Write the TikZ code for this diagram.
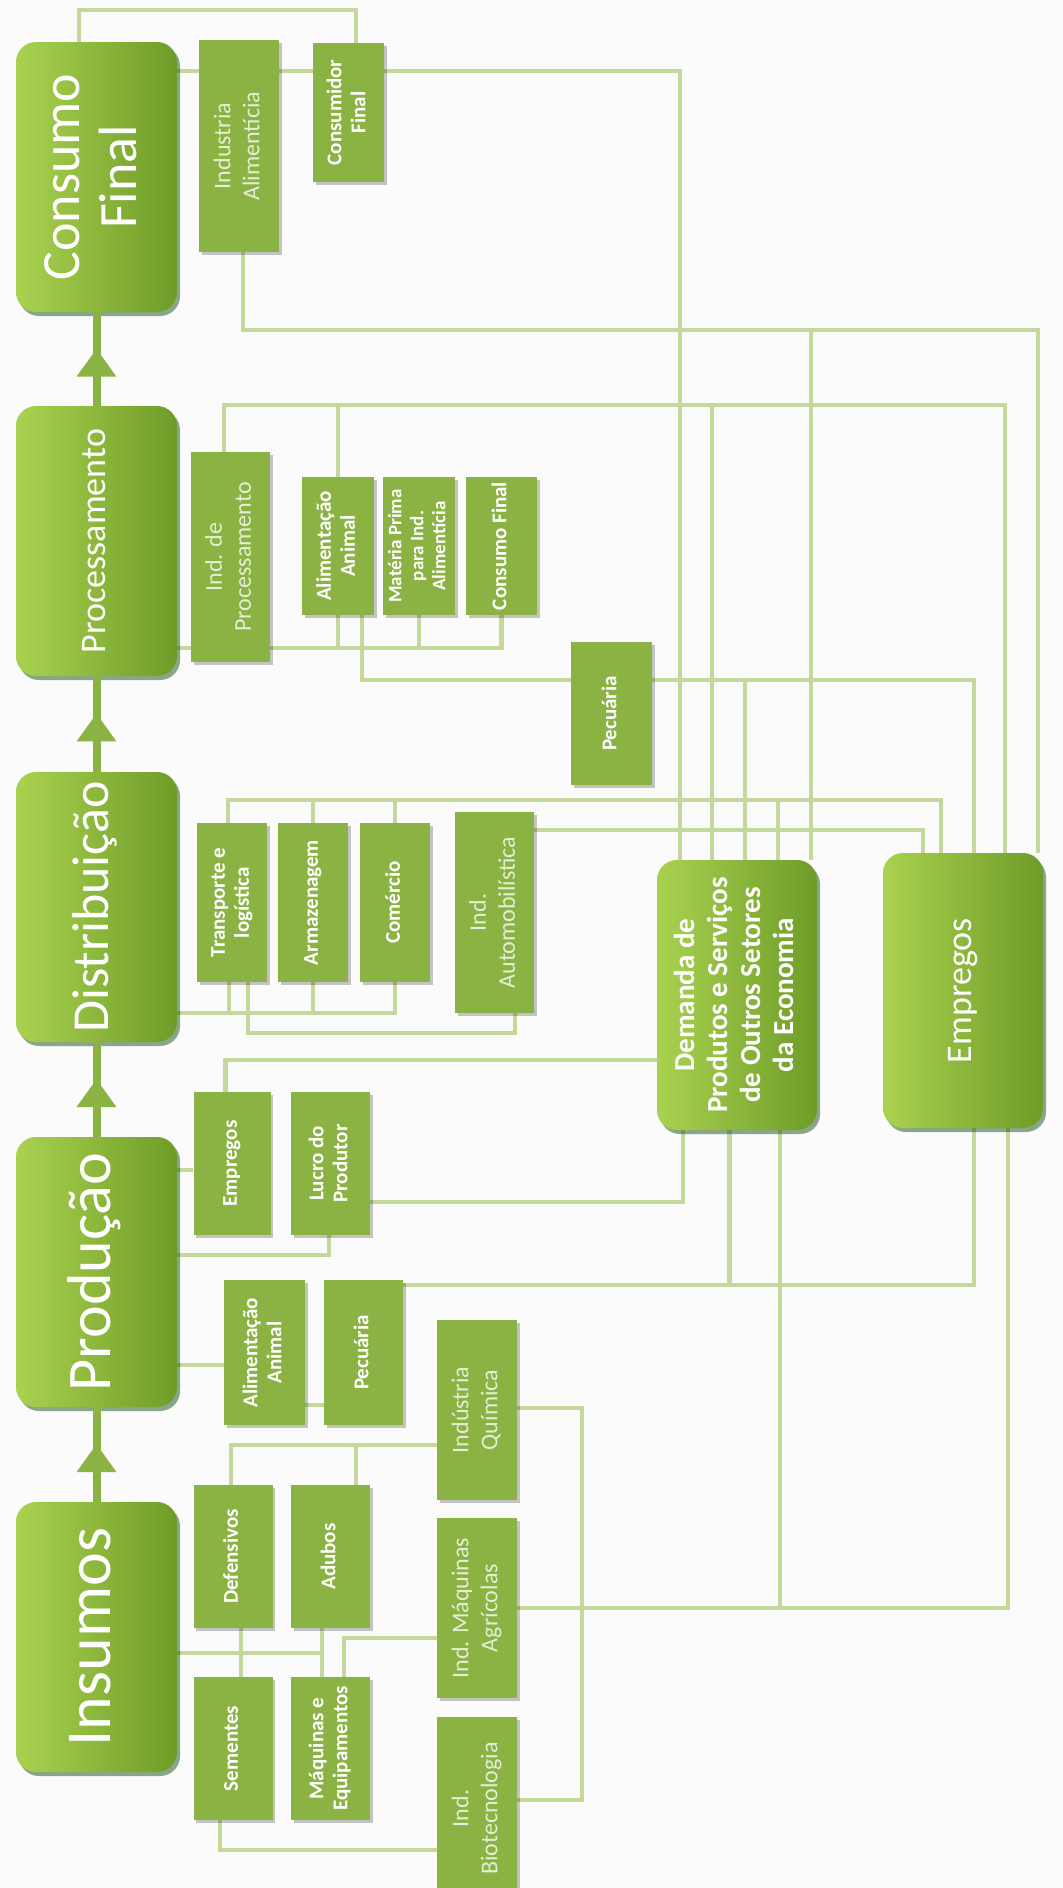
\documentclass[tikz,border=0pt]{standalone}
\usepackage{fontspec}
\setmainfont{Carlito}
\usepackage{graphicx}
\usetikzlibrary{arrows.meta,decorations.markings,shadows}
\definecolor{bgc}{RGB}{250,251,250}
\definecolor{subg}{RGB}{139,179,68}
\definecolor{lineg}{RGB}{197,216,156}
\definecolor{stL}{RGB}{170,210,80}
\definecolor{stR}{RGB}{110,156,40}
\definecolor{lighttxt}{RGB}{228,238,212}
\pgfdeclarelayer{bgzero}
\pgfdeclarelayer{lines}
\pgfsetlayers{bgzero,lines,main}
\newcommand{\rtx}[1]{\rotatebox{90}{\begin{tabular}{@{}c@{}}#1\end{tabular}}}
\newcommand{\fontb}{\fontsize{21}{24}\selectfont\bfseries}
\newcommand{\fontl}{\fontsize{24}{29}\selectfont}
\tikzset{
  wh/.style 2 args={minimum width=#1pt,minimum height=#2pt},
  stage/.style={rounded corners=20pt, left color=stL, right color=stR, draw=none,
    inner sep=0pt, minimum width=161pt, minimum height=270pt, text=white,
    drop shadow={shadow xshift=3pt, shadow yshift=-4pt, opacity=0.45, fill=black!75!green}},
  sub/.style={fill=subg, inner sep=0pt, text=white,
    drop shadow={shadow xshift=2.5pt, shadow yshift=-2.5pt, opacity=0.22, fill=black}},
  bsub/.style={sub, font=\fontb},
  lsub/.style={sub, font=\fontl, text=lighttxt},
  ln/.style={draw=lineg, line width=4.8pt},
  flow/.style={draw=subg, line width=8pt, postaction={decorate},
    decoration={markings, mark=at position 0.61 with {\arrow[subg]{Triangle[width=38pt,length=28pt]}}}},
}
\begin{document}
\begin{tikzpicture}[x=1pt,y=-1pt]
\useasboundingbox (0,0) rectangle (1063,1888);
\begin{pgfonlayer}{bgzero}
\fill[bgc] (0,0) rectangle (1063,1888);
\end{pgfonlayer}

% stages
\node[stage] (sCF) at (96.5,177) {\fontsize{54}{57}\selectfont\rtx{Consumo\\Final}};
\node[stage] (sPR) at (96.5,541) {\fontsize{36}{44}\selectfont\rtx{Processamento}};
\node[stage] (sDI) at (96.5,907) {\fontsize{52}{60}\selectfont\rtx{Distribuição}};
\node[stage] (sPD) at (96.5,1272) {\fontsize{62}{70}\selectfont\rtx{Produção}};
\node[stage] (sIN) at (96.5,1637) {\fontsize{64}{72}\selectfont\rtx{Insumos}};

% consumo final
\node[lsub, wh={80}{212}] (ia) at (239,146) {\rtx{Industria\\Alimentícia}};
\node[bsub, wh={71}{139}] (cfn) at (348.5,112.5) {\rtx{Consumidor\\Final}};
% processamento
\node[lsub, wh={79}{210}] (ip) at (230.5,557) {\rtx{Ind. de\\Processamento}};
\node[bsub, wh={72}{138}] (aap) at (338,546) {\rtx{Alimentação\\Animal}};
\node[bsub, wh={72}{138}] (mp) at (419,546) {\fontsize{19}{22}\selectfont\rtx{Matéria Prima\\para Ind.\\Alimentícia}};
\node[bsub, wh={71}{138}] (cfp) at (501.5,546) {\rtx{Consumo Final}};
\node[bsub, wh={81}{143}] (pecp) at (611.5,713.5) {\rtx{Pecuária}};
% distribuicao
\node[bsub, wh={70}{159}] (tl) at (232,902.5) {\rtx{Transporte e\\logística}};
\node[bsub, wh={70}{159}] (arm) at (313,902.5) {\rtx{Armazenagem}};
\node[bsub, wh={70}{159}] (com) at (395,902.5) {\rtx{Comércio}};
\node[lsub, wh={79}{201}] (iau) at (494.5,912.5) {\rtx{Ind.\\Automobilística}};
% big side boxes
\node[stage, minimum width=160pt, minimum height=270pt] (dem) at (737,995)
  {\fontsize{29}{33}\selectfont\bfseries\rtx{Demanda de\\Produtos e Serviços\\de Outros Setores\\da Economia}};
\node[stage, minimum width=160pt, minimum height=275pt] (emp) at (963,990.5)
  {\fontsize{36}{40}\selectfont\rtx{Empregos}};
% producao
\node[bsub, wh={77}{143}] (empp) at (232,1163.5) {\rtx{Empregos}};
\node[bsub, wh={79}{143}] (luc) at (330.5,1163.5) {\rtx{Lucro do\\Produtor}};
\node[bsub, wh={81}{145}] (aad) at (264.5,1352.5) {\rtx{Alimentação\\Animal}};
\node[bsub, wh={79}{145}] (pecd) at (363.5,1352.5) {\rtx{Pecuária}};
% insumos
\node[lsub, wh={80}{180}] (qui) at (477,1410) {\rtx{Indústria\\Química}};
\node[lsub, wh={80}{180}] (imq) at (477,1608) {\rtx{Ind. Máquinas\\Agrícolas}};
\node[lsub, wh={80}{183}] (bio) at (477,1808.5) {\rtx{Ind.\\Biotecnologia}};
\node[bsub, wh={79}{143}] (def) at (233,1556.5) {\rtx{Defensivos}};
\node[bsub, wh={79}{143}] (adu) at (330.5,1556.5) {\rtx{Adubos}};
\node[bsub, wh={79}{143}] (sem) at (233,1748.5) {\rtx{Sementes}};
\node[bsub, wh={79}{143}] (maq) at (330.5,1748.5) {\rtx{Máquinas e\\Equipamentos}};

% stage arrows
\draw[flow] (sPR.north) -- (sCF.south);
\draw[flow] (sDI.north) -- (sPR.south);
\draw[flow] (sPD.north) -- (sDI.south);
\draw[flow] (sIN.north) -- (sPD.south);

\begin{pgfonlayer}{lines}
% consumo final
\draw[ln] (sCF.north -| 79,0) -- (79,10) -- (356,10) -- (cfn.north -| 356,0);
\draw[ln] (sCF.east |- 0,71) -- (680,71) -- (dem.north -| 680,0);
\draw[ln] (ia.south -| 243,0) -- (243,330) -- (1038,330) -- (emp.north -| 1038,0);
\coordinate (ja) at (811,330);
\draw[ln] (ja) -- (dem.north -| ja);
% processamento
\draw[ln] (ip.north -| 224,0) -- (224,405) -- (1005,405) -- (emp.north -| 1005,0);
\coordinate (jb) at (338,405);
\draw[ln] (jb) -- (aap.north);
\coordinate (jc) at (712,405);
\draw[ln] (jc) -- (dem.north -| jc);
\draw[ln] (sPR.east |- 0,648) -- (cfp.south |- 0,648) -- (cfp.south);
\draw[ln] (aap.south) -- (aap.south |- 0,648);
\draw[ln] (mp.south) -- (mp.south |- 0,648);
\draw[ln] (aap.south -| 362,0) -- (362,680) -- (974,680) -- (emp.north -| 974,0);
\coordinate (je) at (745,680);
\draw[ln] (je) -- (dem.north -| je);
% distribuicao
\draw[ln] (tl.north -| 228,0) -- (228,800) -- (941,800) -- (emp.north -| 941,0);
\draw[ln] (arm.north) -- (arm.north |- 0,800);
\draw[ln] (com.north) -- (com.north |- 0,800);
\coordinate (jf) at (778,800);
\draw[ln] (jf) -- (dem.north -| jf);
\draw[ln] (iau.east |- 0,830) -- (923,830) -- (emp.north -| 923,0);
\draw[ln] (sDI.east |- 0,1013) -- (com.south |- 0,1013) -- (com.south);
\draw[ln] (tl.south -| 229,0) -- (229,1013);
\draw[ln] (arm.south) -- (arm.south |- 0,1013);
\draw[ln] (tl.south -| 248,0) -- (248,1033) -- (515,1033) -- (iau.south -| 515,0);
% producao
\draw[ln] (empp.north -| 225.5,0) -- (225.5,1060) -- (dem.west |- 0,1060);
\draw[ln] (sPD.east |- 0,1170) -- (empp.west |- 0,1170);
\draw[ln] (luc.east |- 0,1202) -- (683,1202) -- (dem.south -| 683,0);
\draw[ln] (sPD.east |- 0,1255) -- (329,1255) -- (luc.south -| 329,0);
\draw[ln] (sPD.east |- 0,1365) -- (aad.west |- 0,1365);
\draw[ln] (aad.east |- 0,1405) -- (pecd.west |- 0,1405);
\draw[ln] (pecd.east |- 0,1285) -- (974,1285) -- (emp.south -| 974,0);
\coordinate (jg) at (729.5,1285);
\draw[ln] (jg) -- (dem.south -| jg);
% insumos
\draw[ln] (qui.east |- 0,1408) -- (582,1408) -- (582,1800) -- (bio.east |- 0,1800);
\draw[ln] (imq.east |- 0,1608) -- (1008,1608) -- (emp.south -| 1008,0);
\coordinate (jh) at (780,1608);
\draw[ln] (jh) -- (dem.south -| jh);
\draw[ln] (qui.west |- 0,1445) -- (231,1445) -- (def.north -| 231,0);
\coordinate (ji) at (356,1445);
\draw[ln] (ji) -- (adu.north -| ji);
\coordinate (jj) at (322,1653);
\draw[ln] (sIN.east |- jj) -- (jj);
\draw[ln] (def.south -| 241,0) -- (sem.north -| 241,0);
\draw[ln] (adu.south -| 322,0) -- (maq.north -| 322,0);
\draw[ln] (imq.west |- 0,1638) -- (344,1638) -- (maq.north -| 344,0);
\draw[ln] (sem.south -| 220,0) -- (220,1850) -- (bio.west |- 0,1850);
\end{pgfonlayer}
\end{tikzpicture}
\end{document}
